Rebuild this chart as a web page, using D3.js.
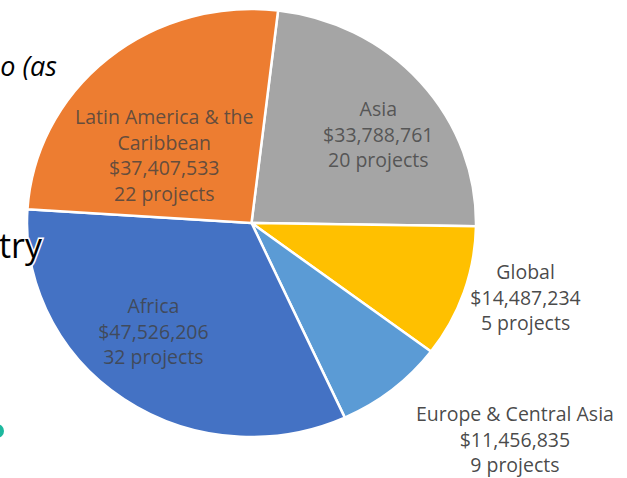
<!DOCTYPE html>
<html>
<head>
<meta charset="utf-8">
<script src="https://cdn.jsdelivr.net/npm/d3@7"></script>
<style>
  html, body { margin: 0; padding: 0; background: #ffffff; }
  svg { display: block; }
</style>
</head>
<body>
<svg id="chart" width="627" height="478"></svg>
<script>
// ---- data ----
const regions = ["Asia", "Global", "Europe & Central Asia", "Africa", "Latin America & the Caribbean"];
const amounts = [33788761, 14487234, 11456835, 47526206, 37407533];
const projects = [20, 5, 9, 32, 22];
const colors = ["#A5A5A5", "#FFC000", "#5B9BD5", "#4472C4", "#ED7D31"];
// label text lines (region name wrapped as in the original)
const nameLines = [["Asia"], ["Global"], ["Europe & Central Asia"], ["Africa"], ["Latin America & the", "Caribbean"]];

// ---- layout ----
const W = 627, H = 478;
const cx = 251.5, cy = 223, rx = 224.5, ry = 214;
const startDeg = 6.8;
// label placement: polar angle (deg, clockwise from 12 o'clock) and radius fraction
const labelPolar = [[53.8, 0.70], [106, 1.27], [130.8, 1.55], [220.7, 0.67], [309, 0.50]];
const labelInside = [true, false, false, true, true];

const svg = d3.select("#chart");
const fmt = d3.format("$,");

// background slide fragments
svg.append("text").attr("x", 57).attr("y", 76).attr("text-anchor", "end")
  .attr("font-family", "'Open Sans', sans-serif").attr("font-style", "italic")
  .attr("font-size", 27).attr("fill", "#000").text("o (as");
svg.append("circle").attr("cx", -3).attr("cy", 431).attr("r", 7).attr("fill", "#1DB89E");

const data = regions.map((r, i) => ({ region: r, amount: amounts[i], projects: projects[i], color: colors[i], lines: nameLines[i], polar: labelPolar[i], inside: labelInside[i] }));

const pie = d3.pie().sort(null).value(d => d.amount)
  .startAngle(startDeg * Math.PI / 180)
  .endAngle(startDeg * Math.PI / 180 + 2 * Math.PI);
const arcs = pie(data);
const arc = d3.arc().innerRadius(0).outerRadius(rx);

const g = svg.append("g").attr("transform", `translate(${cx},${cy}) scale(1,${ry / rx})`);
g.selectAll("path").data(arcs).join("path")
  .attr("d", arc)
  .attr("fill", d => d.data.color)
  .attr("stroke", "#ffffff")
  .attr("stroke-width", 2.5)
  .attr("stroke-linejoin", "round")
  .attr("vector-effect", "non-scaling-stroke");

// background fragment that sits over the pie's edge
svg.append("text").attr("x", 42).attr("y", 258).attr("text-anchor", "end")
  .attr("font-family", "'Open Sans', sans-serif")
  .attr("font-size", 34).attr("fill", "#000")
  .attr("stroke", "#ffffff").attr("stroke-width", 3).attr("paint-order", "stroke")
  .text("try");

// labels
const lineH = 25.5;
const labels = svg.append("g")
  .attr("font-family", "'Open Sans', sans-serif")
  .attr("font-size", 19.5)
  .attr("text-anchor", "middle");
arcs.forEach(a => {
  const d = a.data;
  const ang = d.polar[0] * Math.PI / 180;
  const x = cx + Math.sin(ang) * rx * d.polar[1];
  const y = cy - Math.cos(ang) * ry * d.polar[1];
  const lines = d.lines.concat([fmt(d.amount), d.projects + " projects"]);
  const y0 = y - (lines.length - 1) * lineH / 2 + 7;
  const t = labels.append("text")
    .attr("fill", "#404040")
    .attr("fill-opacity", d.inside ? 0.8 : 0.95);
  lines.forEach((ln, i) => {
    t.append("tspan").attr("x", x).attr("y", y0 + i * lineH).text(ln);
  });
});
</script>
</body>
</html>
